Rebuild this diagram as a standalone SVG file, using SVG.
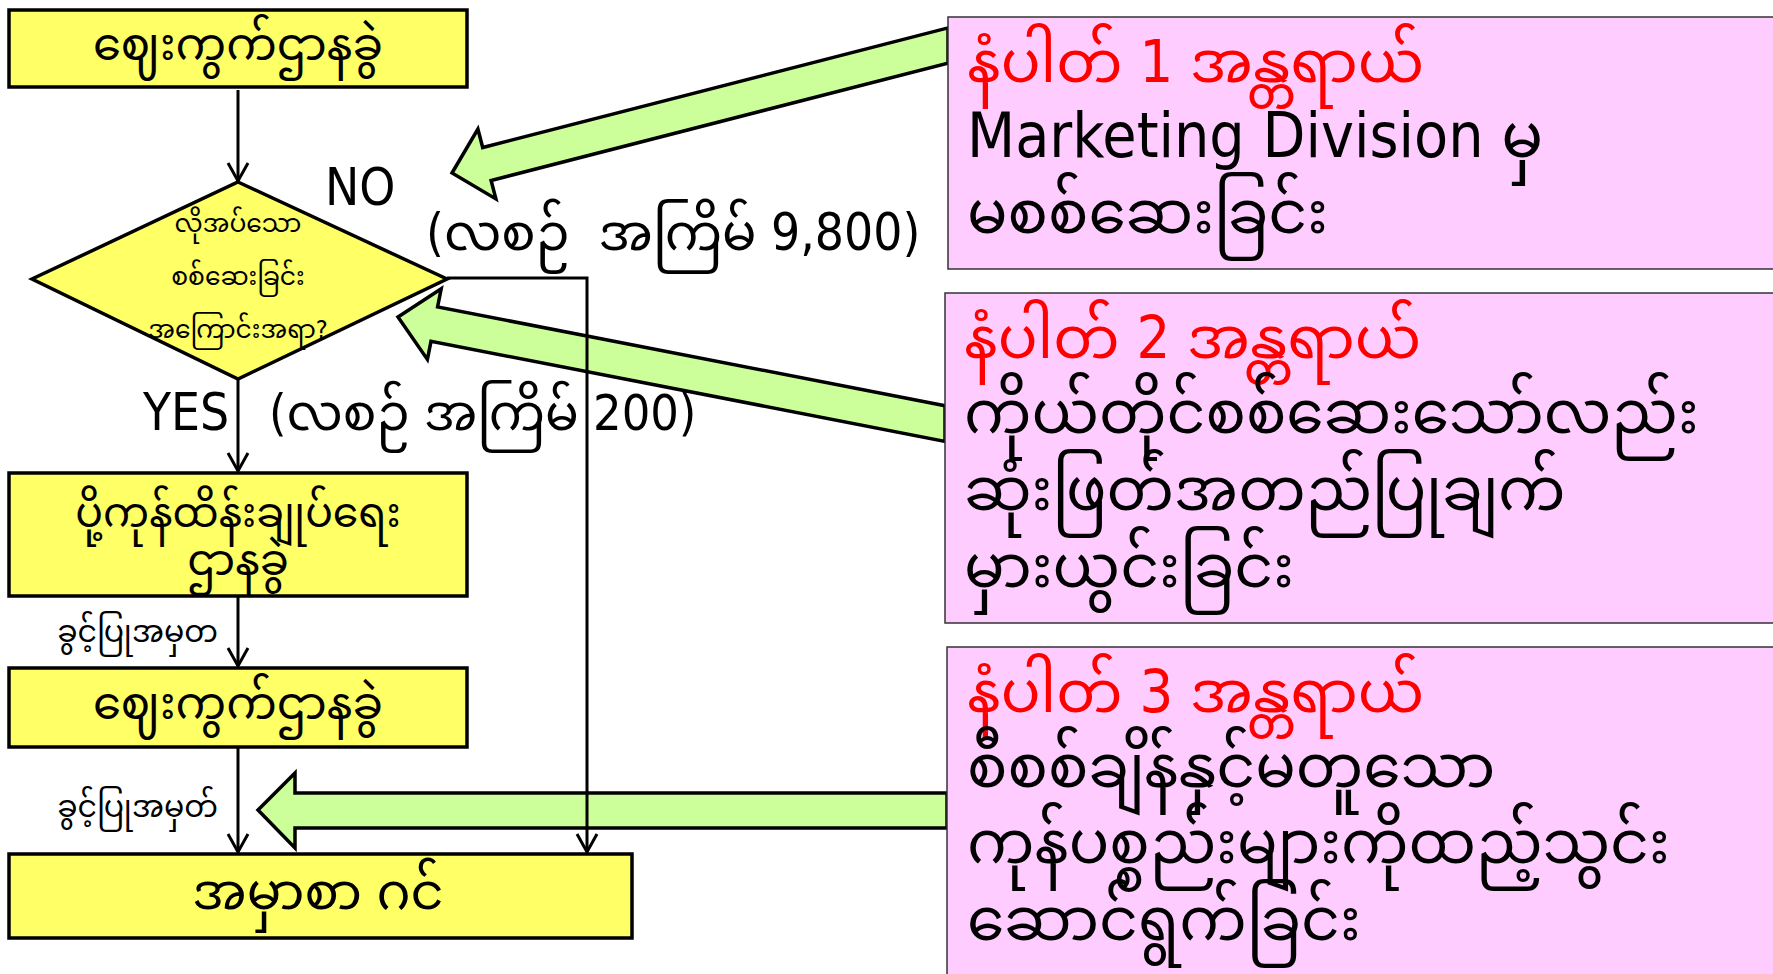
<svg xmlns="http://www.w3.org/2000/svg" width="1773" height="974" viewBox="0 0 1773 974">
<defs>
<style>
.box{fill:#ffff66;stroke:#000;stroke-width:3.5}
.pink{fill:#ffccff;stroke:#333;stroke-width:1.5}
.garrow{fill:#ccff99;stroke:#000;stroke-width:3.5;stroke-linejoin:miter}
.conn{stroke:#000;stroke-width:3;fill:none}
text{font-family:"DejaVu Sans Condensed","DejaVu Sans","Noto Sans Myanmar","Padauk","Myanmar Text",sans-serif;fill:#000}
.mm{font-size:43px}
.mms{font-size:25px}
.lbl{font-size:30px}
.lat{font-size:51px}
.paren{font-size:51px;white-space:pre}
.red{fill:#ff0000;font-size:59px}
.big{font-size:60px}
</style>
<marker id="ah" markerWidth="26" markerHeight="26" refX="21" refY="12" orient="auto" markerUnits="userSpaceOnUse">
<path d="M3,2 L21,12 L3,22" fill="none" stroke="#000" stroke-width="3"/>
</marker>
</defs>
<rect width="1773" height="974" fill="#fff"/>

<g id="node-market1">
<rect class="box" x="9" y="10" width="458" height="77"/>
<text class="mm" x="238" y="60" text-anchor="middle" style="font-size:45px">ဈေးကွက်ဌာနခွဲ</text>
</g>

<g id="node-decision">
<polygon class="box" points="238,182 447,279 238,379 32,279"/>
<text class="mms" x="238" y="232" text-anchor="middle">လိုအပ်သော</text>
<text class="mms" x="238" y="285" text-anchor="middle">စစ်ဆေးခြင်း</text>
<text class="mms" x="238" y="338" text-anchor="middle">အကြောင်းအရာ?</text>
</g>

<g id="node-export">
<rect class="box" x="9" y="473" width="458" height="123"/>
<text class="mm" x="238" y="527" text-anchor="middle" style="font-size:41px">ပို့ကုန်ထိန်းချုပ်ရေး</text>
<text class="mm" x="238" y="575" text-anchor="middle">ဌာနခွဲ</text>
</g>

<g id="node-market2">
<rect class="box" x="9" y="668" width="458" height="79"/>
<text class="mm" x="238" y="719" text-anchor="middle" style="font-size:45px">ဈေးကွက်ဌာနခွဲ</text>
</g>

<g id="node-order">
<rect class="box" x="9" y="854" width="623" height="84"/>
<text class="mm" x="318" y="909" text-anchor="middle" style="font-size:51px">အမှာစာ ဂင်</text>
</g>

<g id="labels">
<text class="lat" x="325" y="205">NO</text>
<text class="paren" x="426" y="250" xml:space="preserve">(လစဉ်  အကြိမ် 9,800)</text>
<text class="lat" x="143" y="430">YES</text>
<text class="paren" x="269" y="430" style="font-size:50px">(လစဉ် အကြိမ် 200)</text>
<text class="lbl" x="218" y="642" text-anchor="end">ခွင့်ပြုအမှတ</text>
<text class="lbl" x="218" y="817" text-anchor="end">ခွင့်ပြုအမှတ်</text>
</g>

<g id="risk-arrows">
<polygon class="garrow" points="452,173 477.9,129.1 482.7,147.5 948,27.9 948,63.1 491.1,180.5 495.9,198.9"/>
<polygon class="garrow" points="398,317 441.2,288.8 437.6,306.9 945,405.7 945,441.4 431,341.3 427.4,359.4"/>
<polygon class="garrow" points="258,810 295,773 295,793 947,793 947,828 295,828 295,848"/>
</g>

<g id="connectors">
<line class="conn" x1="238" y1="90" x2="238" y2="181" marker-end="url(#ah)"/>
<line class="conn" x1="238" y1="379" x2="238" y2="471" marker-end="url(#ah)"/>
<line class="conn" x1="238" y1="596" x2="238" y2="666" marker-end="url(#ah)"/>
<line class="conn" x1="238" y1="747" x2="238" y2="852" marker-end="url(#ah)"/>
<polyline class="conn" points="447,278 587,278 587,852" marker-end="url(#ah)"/>
</g>

<g id="node-risk1">
<rect class="pink" x="948" y="17" width="830" height="252"/>
<text class="red" x="967" y="82">နံပါတ် 1 အန္တရာယ်</text>
<text class="big" x="967" y="157" style="font-size:62px">Marketing Division မှ</text>
<text class="big" x="967" y="233">မစစ်ဆေးခြင်း</text>
</g>

<g id="node-risk2">
<rect class="pink" x="945" y="293" width="833" height="330"/>
<text class="red" x="964" y="358">နံပါတ် 2 အန္တရာယ်</text>
<text class="big" x="964" y="433">ကိုယ်တိုင်စစ်ဆေးသော်လည်း</text>
<text class="big" x="964" y="510">ဆုံးဖြတ်အတည်ပြုချက်</text>
<text class="big" x="964" y="587">မှားယွင်းခြင်း</text>
</g>

<g id="node-risk3">
<rect class="pink" x="947" y="647" width="831" height="340"/>
<text class="red" x="967" y="712">နံပါတ် 3 အန္တရာယ်</text>
<text class="big" x="967" y="787">စီစစ်ချိန်နှင့်မတူသော</text>
<text class="big" x="967" y="863">ကုန်ပစ္စည်းများကိုထည့်သွင်း</text>
<text class="big" x="967" y="940">ဆောင်ရွက်ခြင်း</text>
</g>
</svg>
